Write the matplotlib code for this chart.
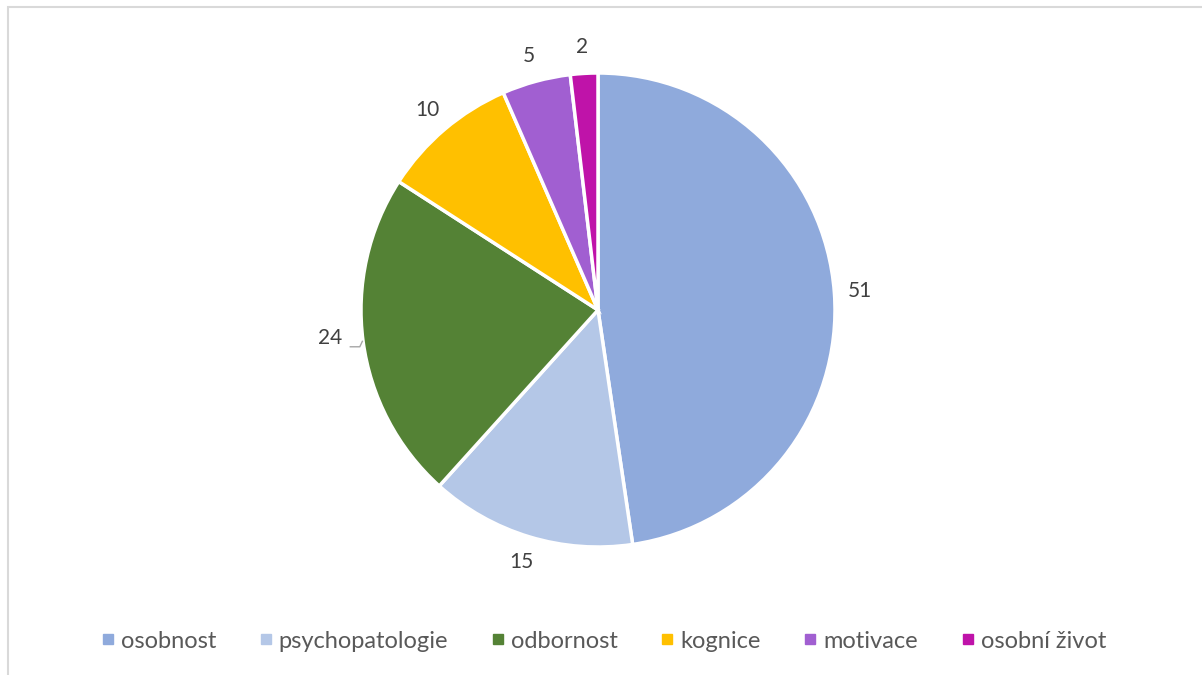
import matplotlib
matplotlib.use("Agg")
import matplotlib.pyplot as plt
import numpy as np
from matplotlib.patches import Rectangle
from matplotlib.lines import Line2D

categories = ["osobnost", "psychopatologie", "odbornost", "kognice", "motivace", "osobní život"]
values = [51, 15, 24, 10, 5, 2]
colors = ["#8FAADC", "#B4C7E7", "#548235", "#FFC000", "#A15FD1", "#BF13A9"]

plt.rcParams['font.family'] = ['Lato', 'DejaVu Sans']

W, H = 1202, 675
fig = plt.figure(figsize=(W / 100, H / 100), dpi=100)

# border
fig.patches.append(Rectangle((8 / W, -0.1), 1.2, (H - 7) / H + 0.1, transform=fig.transFigure,
                             fill=False, edgecolor="#D9D9D9", linewidth=1.5))

cx, cy, r = 598, 310, 237
ax = fig.add_axes([(cx - r) / W, (H - cy - r) / H, 2 * r / W, 2 * r / H])
wedges, _ = ax.pie(values, colors=colors, startangle=90, counterclock=False,
                   wedgeprops=dict(edgecolor="white", linewidth=2.5), radius=1.0)
ax.set_xlim(-1, 1)
ax.set_ylim(-1, 1)
ax.set_aspect("equal")
ax.axis("off")

total = sum(values)
start = 90.0
for i, v in enumerate(values):
    ang = start - v / total * 360 / 2
    start -= v / total * 360
    a = np.deg2rad(ang)
    if categories[i] == "odbornost":
        rr = 1.14
        tx, ty = rr * np.cos(a), rr * np.sin(a) + 0.03
        ax.text(tx, ty, str(v), ha="center", va="center", fontsize=15, color="#404040", clip_on=False)
        ax.plot([tx + 0.085, tx + 0.125, 1.0 * np.cos(a) - 0.003], [ty - 0.035, ty - 0.035, ty - 0.012],
                color="#A6A6A6", lw=1, clip_on=False)
    else:
        rr = 1.11
        ax.text(rr * np.cos(a), rr * np.sin(a), str(v), ha="center", va="center",
                fontsize=15, color="#404040", clip_on=False)

handles = [Line2D([0], [0], marker="s", linestyle="none", markersize=7,
                  markerfacecolor=c, markeredgecolor=c) for c in colors]
fig.legend(handles, categories, loc="center", bbox_to_anchor=(0.5, 34 / H), ncol=6,
           frameon=False, fontsize=17, labelcolor="#595959", handletextpad=0.05,
           columnspacing=1.6, handlelength=1.0)

fig.savefig("out.png", dpi=100)
